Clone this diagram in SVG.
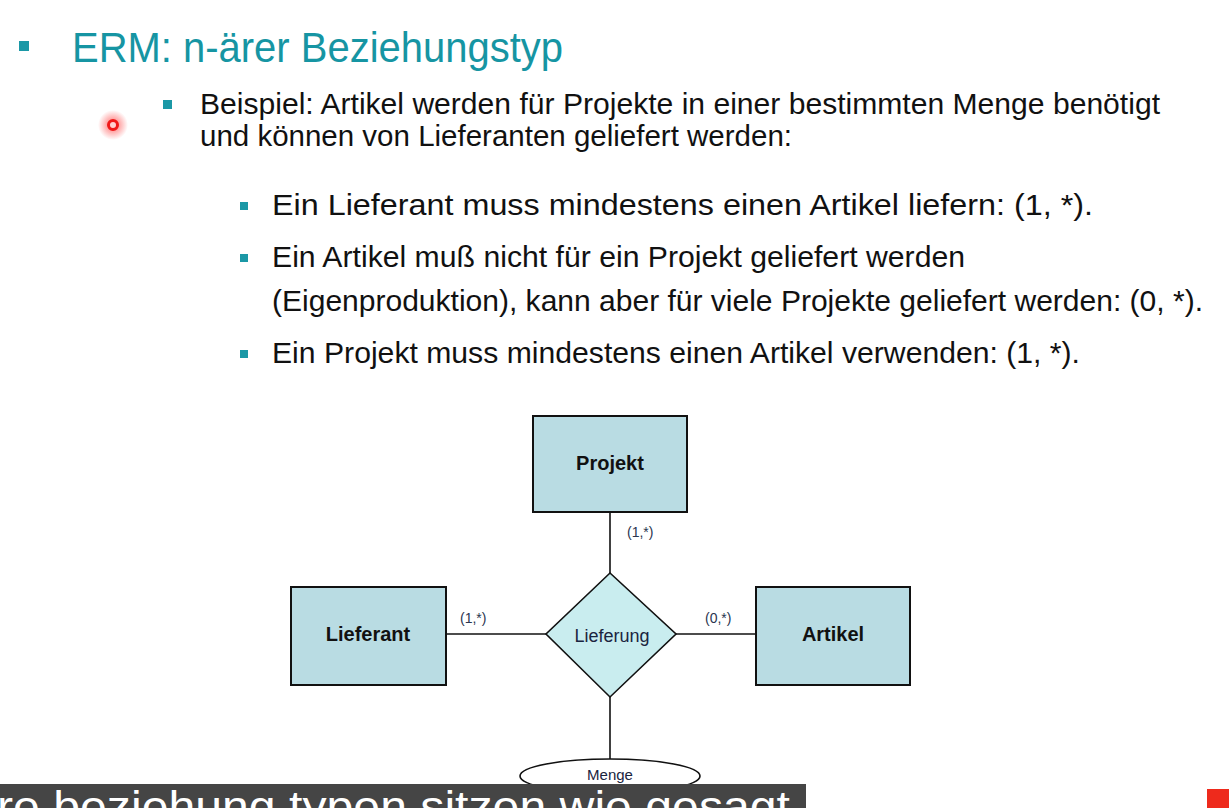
<svg xmlns="http://www.w3.org/2000/svg" width="1229" height="808" viewBox="0 0 1229 808">
  <defs>
    <style>
      .title { font-family: "Liberation Sans", Arial, sans-serif; font-size: 43px; fill: #1695a3; }
      .body { font-family: "Liberation Sans", Arial, sans-serif; font-size: 30px; fill: #111; }
      .bul { fill: #1b98a6; }
      .entity { fill: #b9dce3; stroke: #111; stroke-width: 2; }
      .rel { fill: #c9edef; stroke: #111; stroke-width: 1.6; }
      .attr { fill: #fff; stroke: #111; stroke-width: 1.6; }
      .ename { font-family: "Liberation Sans", Arial, sans-serif; font-size: 20px; font-weight: bold; fill: #111; text-anchor: middle; }
      .rname { font-family: "Liberation Sans", Arial, sans-serif; font-size: 18px; fill: #1a2440; text-anchor: middle; }
      .card { font-family: "Liberation Sans", Arial, sans-serif; font-size: 14px; fill: #2a3550; }
      .conn { stroke: #111; stroke-width: 1.6; fill: none; }
    </style>
    <radialGradient id="glow">
      <stop offset="0" stop-color="#ff2a2a" stop-opacity="0.7"/>
      <stop offset="1" stop-color="#ff2a2a" stop-opacity="0"/>
    </radialGradient>
  </defs>

  <rect width="1229" height="808" fill="#fff"/>

  <!-- heading -->
  <rect class="bul" x="19" y="41" width="10" height="10"/>
  <text class="title" x="72" y="62" textLength="491" lengthAdjust="spacingAndGlyphs">ERM: n-ärer Beziehungstyp</text>

  <!-- pointer marker -->
  <circle cx="113" cy="125" r="15" fill="url(#glow)"/>
  <circle cx="113" cy="125" r="4.5" fill="#ffd0d0" stroke="#f01818" stroke-width="3"/>

  <!-- first level bullet -->
  <rect class="bul" x="163" y="100" width="9" height="9"/>
  <text class="body" x="200" y="114" textLength="960" lengthAdjust="spacingAndGlyphs">Beispiel: Artikel werden für Projekte in einer bestimmten Menge benötigt</text>
  <text class="body" x="200" y="146" textLength="592" lengthAdjust="spacingAndGlyphs">und können von Lieferanten geliefert werden:</text>

  <!-- second level bullets -->
  <rect class="bul" x="240" y="202" width="8" height="8"/>
  <text class="body" x="272" y="215" textLength="821" lengthAdjust="spacingAndGlyphs">Ein Lieferant muss mindestens einen Artikel liefern: (1, *).</text>
  <rect class="bul" x="240" y="254" width="8" height="8"/>
  <text class="body" x="272" y="267" textLength="693" lengthAdjust="spacingAndGlyphs">Ein Artikel muß nicht für ein Projekt geliefert werden</text>
  <text class="body" x="272" y="311" textLength="931" lengthAdjust="spacingAndGlyphs">(Eigenproduktion), kann aber für viele Projekte geliefert werden: (0, *).</text>
  <rect class="bul" x="240" y="350" width="8" height="8"/>
  <text class="body" x="272" y="363" textLength="808" lengthAdjust="spacingAndGlyphs">Ein Projekt muss mindestens einen Artikel verwenden: (1, *).</text>

  <!-- connectors -->
  <g id="connectors">
    <line class="conn" x1="610" y1="512" x2="610" y2="573"/>
    <line class="conn" x1="446" y1="634" x2="546" y2="634"/>
    <line class="conn" x1="676" y1="634" x2="756" y2="634"/>
    <line class="conn" x1="610" y1="697" x2="610" y2="759"/>
    <text class="card" x="627" y="537">(1,*)</text>
    <text class="card" x="460" y="623">(1,*)</text>
    <text class="card" x="705" y="623">(0,*)</text>
  </g>

  <g id="projekt">
    <rect class="entity" x="533" y="416" width="154" height="96"/>
    <text class="ename" x="610" y="470">Projekt</text>
  </g>

  <g id="lieferant">
    <rect class="entity" x="291" y="587" width="155" height="98"/>
    <text class="ename" x="368" y="641">Lieferant</text>
  </g>

  <g id="artikel">
    <rect class="entity" x="756" y="587" width="154" height="98"/>
    <text class="ename" x="833" y="641">Artikel</text>
  </g>

  <g id="lieferung">
    <polygon class="rel" points="610,573 676,634 610,697 546,634"/>
    <text class="rname" x="612" y="642">Lieferung</text>
  </g>

  <g id="menge">
    <ellipse class="attr" cx="610" cy="776" rx="90" ry="17"/>
    <text class="rname" x="610" y="780" style="font-size:15px">Menge</text>
  </g>

  <!-- subtitle overlay -->
  <rect x="0" y="784" width="806" height="24" fill="#454545"/>
  <text x="-3" y="822" style="font-family:'Liberation Sans', Arial, sans-serif; font-size:45px; fill:#fff" textLength="793" lengthAdjust="spacingAndGlyphs">re beziehung typen sitzen wie gesagt</text>

  <rect x="1207" y="789" width="22" height="19" fill="#ee2a1c"/>
</svg>
